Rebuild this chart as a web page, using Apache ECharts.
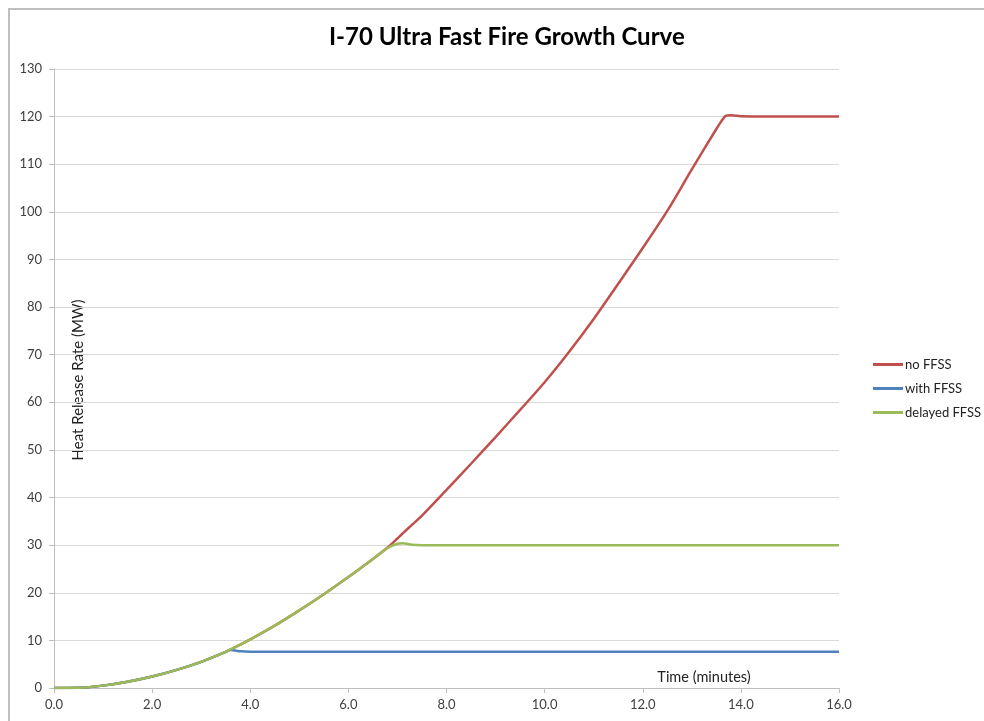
<!DOCTYPE html>
<html>
<head>
<meta charset="utf-8">
<script src="https://cdn.jsdelivr.net/npm/echarts@6/dist/echarts.min.js"></script>
<style>
  html, body { margin: 0; padding: 0; background: #fff; }
  #main { width: 984px; height: 721px; }
</style>
</head>
<body>
<div id="main"></div>
<script>
// time in minutes, shared by all three curves
var timeMin = [0, 0.5, 1, 1.5, 2, 2.5, 3, 3.5, 3.6, 3.8, 4, 4.5, 5, 5.5, 6, 6.5, 6.8,
  7, 7.1, 7.3, 7.5, 8, 8.5, 9, 9.5, 10, 10.5, 11, 11.5, 12, 12.5, 13, 13.5, 13.6, 13.7, 13.8,
  14, 14.5, 15, 15.5, 16];

// heat release rate (MW)
var noFfss = [0, 0.05, 0.5, 1.3, 2.4, 3.8, 5.5, 7.6, 8.1, 9.1, 10.2, 13.1, 16.3, 19.7, 23.3, 27.1, 29.5,
  31.4, 32.4, 34.3, 36.2, 41.6, 47.1, 52.7, 58.4, 64.2, 70.6, 77.5, 84.9, 92.4, 100.2, 108.9, 117.4, 119.0, 120.2, 120.3,
  120.1, 120, 120, 120, 120];
var withFfss = [0, 0.05, 0.5, 1.3, 2.4, 3.8, 5.5, 7.6, 8.0, 7.7, 7.6, 7.6, 7.6, 7.6, 7.6, 7.6, 7.6,
  7.6, 7.6, 7.6, 7.6, 7.6, 7.6, 7.6, 7.6, 7.6, 7.6, 7.6, 7.6, 7.6, 7.6, 7.6, 7.6, 7.6, 7.6, 7.6,
  7.6, 7.6, 7.6, 7.6, 7.6];
var delayedFfss = [0, 0.05, 0.5, 1.3, 2.4, 3.8, 5.5, 7.6, 8.1, 9.1, 10.2, 13.1, 16.3, 19.7, 23.3, 27.1, 29.4,
  30.3, 30.4, 30.1, 30, 30, 30, 30, 30, 30, 30, 30, 30, 30, 30, 30, 30, 30, 30, 30,
  30, 30, 30, 30, 30];

var seriesNames = ["no FFSS", "with FFSS", "delayed FFSS"];
var seriesColors = ["#c0504d", "#4f81bd", "#9bbb59"];

var pairs = function(vals) {
  return timeMin.map(function(t, i) { return [t, vals[i]]; });
};

var font = "Lato, 'Noto Sans', sans-serif";
var myChart = echarts.init(document.getElementById('main'));

var option = {
  animation: false,
  textStyle: { fontFamily: font },
  title: {
    text: "I-70 Ultra Fast Fire Growth Curve",
    left: 324,
    top: 20,
    textStyle: { fontSize: 24, fontWeight: 'bold', color: '#000', fontFamily: font }
  },
  legend: {
    orient: 'vertical',
    left: 868,
    top: 353,
    itemWidth: 30,
    itemHeight: 3,
    itemGap: 11,
    icon: 'rect',
    data: seriesNames,
    textStyle: { fontSize: 13, color: '#222', padding: [0, 0, 0, -3] }
  },
  grid: { left: 54, right: 145, top: 69, bottom: 33, containLabel: false },
  xAxis: {
    type: 'value',
    min: 0,
    max: 16,
    interval: 2,
    axisLine: { lineStyle: { color: '#bfbfbf', width: 1 } },
    axisTick: { show: true, length: 5, lineStyle: { color: '#bfbfbf' } },
    splitLine: { show: false },
    axisLabel: {
      color: '#404040', fontSize: 13, margin: 10,
      formatter: function(v) { return v.toFixed(1); }
    }
  },
  yAxis: {
    type: 'value',
    min: 0,
    max: 130,
    interval: 10,
    axisLine: { show: true, lineStyle: { color: '#bfbfbf', width: 1 } },
    axisTick: { show: true, length: 5, lineStyle: { color: '#bfbfbf' } },
    splitLine: { lineStyle: { color: '#d9d9d9', width: 1 } },
    axisLabel: { color: '#404040', fontSize: 13, margin: 12 }
  },
  graphic: [{
    type: 'rect',
    shape: { x: 9, y: 9, width: 1000, height: 760 },
    style: { fill: 'none', stroke: '#bfbfbf', lineWidth: 2 },
    silent: true
  }, {
    type: 'text',
    x: 78,
    y: 380,
    rotation: Math.PI / 2,
    style: {
      text: "Heat Release Rate (MW)",
      fill: '#222',
      font: "15px " + font,
      align: 'center',
      verticalAlign: 'middle'
    }
  }, {
    type: 'text',
    x: 704,
    y: 677,
    style: {
      text: "Time (minutes)",
      fill: '#222',
      font: "14.5px " + font,
      align: 'center',
      verticalAlign: 'middle'
    }
  }],
  series: seriesNames.map(function(name, k) {
    return {
      name: name,
      type: 'line',
      data: pairs([noFfss, withFfss, delayedFfss][k]),
      showSymbol: false,
      smooth: 0.3,
      color: seriesColors[k],
      lineStyle: { width: 2.5, color: seriesColors[k] },
      z: 2 + k
    };
  })
};

myChart.setOption(option);
</script>
</body>
</html>
